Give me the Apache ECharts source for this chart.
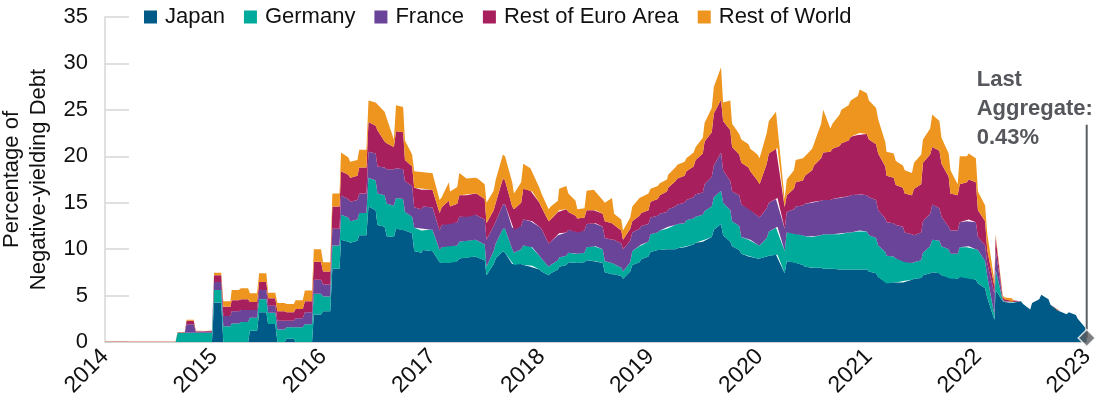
<!DOCTYPE html>
<html><head><meta charset="utf-8">
<script src="https://cdn.jsdelivr.net/npm/echarts@6/dist/echarts.min.js"></script>
<style>html,body{margin:0;padding:0;background:#fff}#c{width:1100px;height:401px}</style>
</head><body><div id="c"></div>
<script>
const seriesNames = ['Japan', 'Germany', 'France', 'Rest of Euro Area', 'Rest of World'];
const seriesColors = ['#005a87', '#00ab9c', '#6a4499', '#a81f5d', '#ee951f'];
const years = [2014, 2015, 2016, 2017, 2018, 2019, 2020, 2021, 2022];
const yTicks = [0, 5, 10, 15, 20, 25, 30, 35];
// two readings per month: on the 1st and on the 25th
const sampleDays = [1, 25];
const lastDate = Date.UTC(2022, 11, 31);
const lastValue = 0.43;
const calloutTop = 23.4;
const calloutText = 'Last\nAggregate:\n0.43%';

// Values in % of debt, two readings per month, one row per year (Jan..Dec), then final reading
const japan = [
0,0, 0,0, 0,0, 0,0, 0,0, 0,0, 0,0, 0,0, 0,0, 0,0, 0,0, 0,0,
4.25,4.25, 0,0, 0,0, 0,0, 1.2,1.2, 3.2,3.2, 1.95,1.95, 0,0, 0.35,0.35, 0,0, 0,0, 2.95,2.95,
3.3,3.3, 7.9,7.9, 11.0,10.8, 10.7,10.9, 11.5,11.5, 14.6,14.2, 12.6,12.4, 11.4,11.3, 12.2,12.1, 12.0,11.7, 9.8,9.6, 9.9,9.8,
9.8,8.6, 8.5,8.7, 8.5,8.7, 9.0,9.1, 9.1,9.2, 9.1,8.8, 7.2,8.4, 9.0,9.8, 9.6,8.4, 8.3,8.4, 8.3,8.1, 8.2,7.8,
7.6,7.2, 7.4,7.8, 8.1,8.3, 8.6,8.5, 8.5,8.6, 8.8,8.7, 8.7,8.5, 7.5,7.3, 7.3,7.1, 6.8,7.6, 8.3,8.6, 8.9,9.2,
9.7,9.9, 9.9,10.0, 10.0,10.0, 10.1,10.2, 10.3,10.5, 10.7,10.8, 11.0,11.3, 12.1,12.7, 11.5,10.8, 10.3,9.9, 9.5,9.2, 9.2,9.0,
9.0,9.2, 9.3,9.4, 9.4,7.4, 8.7,8.6, 8.5,8.3, 8.1,8.0, 8.0,8.0, 7.9,7.9, 7.9,7.8, 7.8,7.8, 7.8,7.8, 7.8,7.8,
7.6,7.4, 7.0,6.5, 6.3,6.4, 6.4,6.4, 6.6,6.7, 6.8,6.9, 7.2,7.4, 7.5,7.4, 7.2,7.0, 6.8,6.8, 7.0,7.0, 6.8,6.7,
6.3,5.8, 4.8,2.4, 5.6,4.4, 4.3,4.2, 4.3,4.4, 4.1,3.5, 4.2,4.6, 5.1,4.6, 4.0,3.4, 3.3,3.0, 3.2,2.9, 2.5,1.6,
0.43];
const germany = [
0,0, 0,0, 0,0, 0,0, 0,0, 0,0, 0,0, 0,0, 1.0,1.0, 1.0,1.0, 1.0,1.0, 1.0,1.0,
1.35,1.35, 1.7,1.7, 2.0,2.0, 2.15,2.15, 1.4,1.4, 1.4,1.4, 1.2,1.2, 1.35,1.35, 1.25,1.25, 1.6,1.6, 1.9,1.9, 2.25,2.25,
1.6,1.6, 2.5,2.5, 2.7,2.6, 2.3,2.3, 2.4,2.4, 3.1,3.2, 3.4,3.4, 3.5,3.4, 3.3,3.3, 2.0,1.8, 2.5,2.4, 2.3,2.3,
2.3,1.3, 1.7,1.8, 1.8,1.7, 1.8,1.8, 1.8,1.8, 1.8,1.7, 0.9,1.4, 1.6,2.4, 2.6,1.6, 1.3,1.6, 2.1,2.2, 2.0,1.5,
1.4,0.9, 0.9,1.0, 1.0,1.0, 1.0,1.0, 1.0,1.0, 1.4,1.6, 1.6,1.5, 1.2,1.2, 1.1,0.9, 0.8,1.0, 1.5,1.7, 1.6,1.6,
1.9,1.9, 2.1,2.2, 2.4,2.6, 2.6,2.6, 2.8,2.8, 2.8,2.9, 3.1,3.3, 3.5,3.6, 3.5,3.4, 2.7,2.6, 1.8,1.8, 1.8,1.5,
1.4,2.0, 2.6,2.9, 3.0,2.4, 3.1,3.1, 3.1,3.2, 3.3,3.3, 3.4,3.5, 3.7,3.7, 3.7,3.8, 3.9,4.0, 4.0,4.1, 4.2,4.1,
3.9,3.8, 3.4,3.2, 3.0,2.8, 2.6,2.4, 2.0,1.8, 1.8,1.9, 2.4,2.9, 3.5,3.5, 3.1,3.0, 2.7,2.7, 3.2,3.2, 3.5,3.3,
3.6,2.9, 2.3,0.5, 2.2,0.1, 0.05,0.05, 0,0, 0,0, 0,0, 0,0, 0,0, 0,0, 0,0, 0,0,
0];
const france = [
0,0, 0,0, 0,0, 0,0, 0,0, 0,0, 0,0, 0,0, 0,0, 0.9,0.9, 0.1,0.1, 0.1,0.1,
0.85,0.85, 1.1,1.1, 1.3,1.3, 1.3,1.3, 0.85,0.85, 1.0,1.0, 0.75,0.75, 0.95,0.95, 0.7,0.7, 0.95,0.95, 1.3,1.3, 1.5,1.5,
1.3,1.3, 1.8,1.8, 2.1,2.0, 2.1,2.1, 2.1,2.1, 2.8,2.9, 2.9,3.0, 3.7,3.9, 3.2,3.2, 3.3,3.3, 2.2,2.3, 2.4,2.4,
2.4,2.1, 2.4,2.4, 2.4,2.5, 2.7,2.7, 2.6,2.7, 2.7,2.7, 2.9,2.7, 2.4,2.6, 2.6,2.3, 2.5,2.5, 2.8,2.7, 2.8,3.1,
3.2,2.5, 2.5,2.7, 2.6,2.5, 2.5,2.4, 2.3,2.4, 2.5,2.5, 2.5,2.4, 2.5,2.5, 2.6,2.6, 2.4,2.3, 2.0,1.9, 2.0,1.9,
1.8,1.8, 1.8,1.8, 1.9,2.0, 2.1,2.2, 2.2,2.3, 2.4,2.4, 2.9,3.2, 3.4,4.1, 3.5,3.1, 3.2,3.3, 3.5,3.4, 3.2,3.1,
3.0,3.2, 3.1,3.1, 3.1,2.4, 2.2,2.6, 3.0,3.2, 3.5,3.7, 3.7,3.7, 3.7,3.7, 3.8,3.9, 3.9,3.9, 4.0,4.0, 3.9,3.9,
4.1,4.1, 3.8,3.6, 3.6,3.6, 3.6,3.6, 3.2,3.1, 2.9,3.0, 3.4,3.5, 3.8,3.5, 3.2,2.4, 2.5,2.5, 2.7,2.8, 2.9,2.9,
1.4,1.7, 1.4,2.3, 2.1,0.1, 0.05,0.05, 0,0, 0,0, 0,0, 0,0, 0,0, 0,0, 0,0, 0,0,
0];
const restEuro = [
0.03,0.03, 0.03,0.03, 0.03,0.03, 0.03,0.03, 0.03,0.03, 0.03,0.03, 0.03,0.03, 0.03,0.03, 0.04,0.04, 0.4,0.4, 0.05,0.05, 0.1,0.1,
0.75,0.75, 1.0,1.0, 1.2,1.2, 1.15,1.15, 0.85,0.85, 0.85,0.85, 0.8,0.8, 1.0,1.0, 0.9,0.9, 1.0,1.0, 1.2,1.2, 1.95,1.95,
1.4,1.4, 2.4,2.4, 2.6,2.6, 2.6,2.6, 2.8,2.8, 3.2,3.0, 3.9,2.8, 2.8,2.4, 4.0,4.0, 2.3,2.1, 2.1,2.1, 1.9,1.9,
1.9,1.9, 1.9,2.3, 1.9,2.0, 2.3,2.2, 2.4,2.3, 2.3,2.2, 1.8,1.7, 2.0,2.8, 2.6,2.3, 2.2,2.5, 3.3,3.3, 3.2,2.6,
2.3,2.4, 2.4,2.5, 2.5,2.5, 1.9,1.7, 1.5,1.4, 1.5,1.4, 1.4,1.4, 1.8,1.8, 1.6,1.4, 1.0,1.3, 1.2,1.4, 1.4,1.5,
1.7,1.8, 2.0,2.2, 2.3,2.7, 2.8,2.9, 3.1,3.3, 3.7,4.2, 4.6,4.8, 5.6,5.7, 5.3,5.5, 4.8,4.4, 4.5,4.4, 4.2,3.8,
3.6,4.8, 5.3,5.4, 5.4,2.3, 1.8,2.2, 2.6,2.7, 3.0,3.5, 3.9,4.6, 5.1,5.2, 5.4,5.6, 5.8,6.0, 6.3,6.4, 6.6,6.6,
6.2,6.0, 6.1,5.6, 5.0,4.9, 4.3,4.2, 4.2,4.2, 5.0,5.2, 6.3,6.4, 6.2,6.2, 5.7,5.4, 4.0,3.8, 4.1,4.2, 4.3,4.3,
2.9,2.6, 1.4,0.8, 1.4,0.2, 0.2,0.2, 0,0, 0,0, 0,0, 0,0, 0,0, 0,0, 0,0, 0,0,
0];
const restWorld = [
0.03,0.03, 0.03,0.03, 0.03,0.03, 0.03,0.03, 0.03,0.03, 0.03,0.03, 0.03,0.03, 0.03,0.03, 0.04,0.04, 0.1,0.1, 0.05,0.05, 0.05,0.05,
0.25,0.25, 0.6,0.6, 1.1,1.1, 1.2,1.2, 0.95,0.95, 0.95,0.95, 0.6,0.6, 0.9,0.9, 0.9,0.9, 0.95,0.95, 1.15,1.15, 1.35,1.35,
1.0,1.0, 1.4,1.4, 2.0,1.9, 1.7,1.7, 1.9,1.9, 2.3,2.5, 2.8,3.2, 2.7,0.8, 2.8,2.7, 2.1,1.3, 1.8,1.9, 1.8,1.8,
1.8,1.4, 1.1,2.0, 1.6,1.8, 2.4,1.8, 1.5,1.7, 1.7,1.6, 2.2,2.1, 2.5,2.6, 2.6,2.6, 1.7,2.2, 2.7,2.4, 2.4,1.6,
1.5,1.3, 1.4,1.2, 2.3,2.5, 2.0,1.6, 1.0,1.0, 2.1,2.2, 2.0,1.5, 2.0,2.7, 1.2,1.2, 1.0,1.2, 1.6,1.9, 1.7,1.8,
1.4,1.4, 1.3,1.3, 1.4,1.5, 1.5,1.5, 1.4,1.5, 1.4,1.7, 2.0,2.6, 2.9,3.5, 2.0,3.2, 2.5,2.2, 2.5,2.5, 2.4,2.8,
2.8,3.3, 3.5,4.0, 4.1,0.9, 1.7,2.0, 2.4,2.4, 2.1,2.3, 2.0,3.7, 4.6,2.5, 2.7,3.4, 3.6,3.8, 3.9,4.2, 4.7,4.4,
4.2,3.9, 3.7,2.6, 2.6,2.6, 2.6,2.4, 2.5,2.4, 2.8,3.2, 2.5,2.8, 3.5,3.2, 2.8,2.5, 2.5,1.2, 3.0,2.8, 2.8,2.6,
2.0,1.7, 1.8,0.6, 0.3,0.2, 0.2,0.2, 0,0, 0,0, 0,0, 0,0, 0,0, 0,0, 0,0, 0,0,
0];

const dates = [];
years.forEach(y => { for (let m = 0; m < 12; m++) sampleDays.forEach(d => dates.push(Date.UTC(y, m, d))); });
dates.push(lastDate);

const FONT = "'Liberation Sans', Arial, Helvetica, sans-serif";
const values = [japan, germany, france, restEuro, restWorld];
const areaSeries = seriesNames.map((name, k) => ({
  name, type: 'line', stack: 'total',
  data: dates.map((t, i) => [t, values[k][i]]),
  showSymbol: false, symbol: 'none',
  lineStyle: { width: 0 },
  areaStyle: { color: seriesColors[k], opacity: 1 },
  itemStyle: { color: seriesColors[k] },
  emphasis: { disabled: true }, silent: true, z: 2
}));

const YEAR = 365 * 24 * 3600 * 1000;
const chart = echarts.init(document.getElementById('c'), null, { renderer: 'canvas' });
chart.setOption({
  animation: false,
  useUTC: true,
  backgroundColor: '#fff',
  textStyle: { fontFamily: FONT },
  legend: {
    data: seriesNames, left: 144, top: 6, padding: 0,
    icon: 'rect', itemWidth: 13, itemHeight: 13, itemGap: 19,
    textStyle: { fontSize: 22, color: '#111', fontFamily: FONT, padding: [0, 0, 0, 3] }
  },
  grid: { left: 105, right: 13, top: 17, bottom: 59, containLabel: false, outerBoundsMode: 'none' },
  xAxis: {
    type: 'time', min: Date.UTC(years[0], 0, 1), max: Date.UTC(years[years.length - 1] + 1, 0, 1),
    splitNumber: 9, minInterval: YEAR, maxInterval: YEAR + 2 * 86400000,
    axisLine: { show: true, lineStyle: { color: '#d0d0d0', width: 1 } },
    axisTick: { show: false },
    splitLine: { show: false },
    axisLabel: { rotate: 45, fontSize: 23, color: '#111', margin: 11, fontFamily: FONT,
      showMinLabel: true, showMaxLabel: true, hideOverlap: false,
      formatter: v => String(new Date(v + 86400000).getUTCFullYear()) }
  },
  yAxis: {
    type: 'value', min: yTicks[0], max: yTicks[yTicks.length - 1], interval: 5,
    name: 'Percentage of\nNegative-yielding Debt', nameLocation: 'middle', nameGap: 53, nameRotate: 90,
    nameTextStyle: { fontSize: 22, color: '#111', lineHeight: 27, fontFamily: FONT },
    axisLine: { show: true, lineStyle: { color: '#d6d6d6', width: 1.5 } },
    axisTick: { show: true, inside: true, length: 24, lineStyle: { color: '#d6d6d6', width: 1.5 } },
    splitLine: { show: false },
    axisLabel: { fontSize: 22, color: '#111', margin: 17, fontFamily: FONT }
  },
  series: [
    ...areaSeries,
    { name: 'callout', type: 'line', data: [[lastDate, lastValue], [lastDate, calloutTop]],
      showSymbol: false, symbol: 'none', lineStyle: { color: '#5a5d62', width: 2 },
      silent: true, z: 5, clip: false },
    { name: 'last', type: 'scatter', data: [[lastDate, lastValue]], symbol: 'diamond', symbolSize: [17, 17],
      itemStyle: { color: '#5a5d62', borderColor: '#fff', borderWidth: 1.5 }, silent: true, z: 6, clip: false }
  ]
});
const p = chart.convertToPixel({ xAxisIndex: 0, yAxisIndex: 0 }, [lastDate, calloutTop]);
chart.setOption({
  graphic: [{ type: 'text', left: p[0] - 110, top: p[1] - 59, silent: true,
    style: { text: calloutText, fontSize: 22, fontWeight: 'bold', fontFamily: FONT, fill: '#55575c', lineHeight: 29 } }]
});
</script></body></html>
